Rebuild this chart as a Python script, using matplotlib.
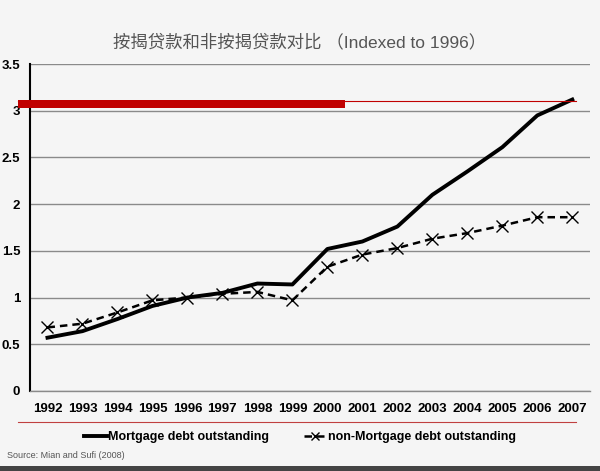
import matplotlib
matplotlib.use("Agg")
import matplotlib.pyplot as plt
from matplotlib.lines import Line2D
from matplotlib.patches import Rectangle

plt.rcParams['font.family'] = ['Liberation Sans', 'Noto Sans CJK SC', 'DejaVu Sans']

# данные
years = ['1992', '1993', '1994', '1995', '1996', '1997', '1998', '1999',
         '2000', '2001', '2002', '2003', '2004', '2005', '2006', '2007']
mortgage = [0.57, 0.64, 0.77, 0.91, 1.00, 1.05, 1.15, 1.14,
            1.52, 1.60, 1.76, 2.10, 2.35, 2.61, 2.95, 3.12]
non_mortgage = [0.68, 0.72, 0.84, 0.97, 1.00, 1.04, 1.06, 0.97,
                1.33, 1.46, 1.53, 1.63, 1.69, 1.77, 1.86, 1.86]
yticks = [0, 0.5, 1, 1.5, 2, 2.5, 3, 3.5]
ytick_labels = ['0', '0.5', '1', '1.5', '2', '2.5', '3', '3.5']

fig = plt.figure(figsize=(6, 4.71), dpi=100)
fig.patch.set_facecolor('#f5f5f5')
ax = fig.add_axes([0.05, 0.17, 0.933, 0.694])
ax.set_facecolor('#f5f5f5')

x = range(len(years))
ax.plot(x, mortgage, color='black', lw=2.8, solid_joinstyle='round',
        label='Mortgage debt outstanding')
ax.plot(x, non_mortgage, color='black', lw=1.8, linestyle=(0, (3, 2)),
        marker='x', markersize=8, markeredgewidth=1.0,
        label='non-Mortgage debt outstanding')

ax.set_xlim(-0.5, len(years) - 0.5)
ax.set_ylim(0, 3.5)
ax.set_yticks(yticks)
ax.set_yticklabels(ytick_labels)
ax.set_xticks(list(x))
ax.set_xticklabels(years)
ax.tick_params(length=0, labelsize=9.5)
ax.tick_params(axis='y', pad=7)
ax.tick_params(axis='x', pad=9)
for lbl in ax.get_xticklabels() + ax.get_yticklabels():
    lbl.set_fontweight('bold')

ax.grid(axis='y', color='#8a8a8a', lw=1.0)
ax.set_axisbelow(True)
for s in ['top', 'right']:
    ax.spines[s].set_visible(False)
ax.spines['left'].set_color('black')
ax.spines['left'].set_linewidth(1.5)
ax.spines['bottom'].set_color('#8a8a8a')
ax.spines['bottom'].set_linewidth(1.0)

# заголовок
fig.text(0.5, 0.91, '按揭贷款和非按揭贷款对比 （Indexed to 1996）',
         ha='center', va='center', fontsize=12.5, color='#555555',
         family=['Liberation Sans', 'Noto Sans CJK SC', 'DejaVu Sans'])

# красные полосы
fig.add_artist(Rectangle((0.03, 0.770), 0.545, 0.018,
                         transform=fig.transFigure, color='#c00000', lw=0))
fig.add_artist(Line2D([0.03, 0.96], [0.786, 0.786], transform=fig.transFigure,
                      color='#c00000', lw=0.8))
fig.add_artist(Line2D([0.03, 0.96], [0.104, 0.104], transform=fig.transFigure,
                      color='#c04040', lw=0.8))

leg = fig.legend(loc='center', bbox_to_anchor=(0.5, 0.072), ncol=2, frameon=False,
                 fontsize=9, handlelength=1.8, handletextpad=0.1, columnspacing=2.8,
                 markerscale=0.8)
for t in leg.get_texts():
    t.set_fontweight('bold')

fig.text(0.012, 0.033, 'Source: Mian and Sufi (2008)', fontsize=6.5, color='#555555',
         va='center')
fig.add_artist(Rectangle((0, 0), 1, 0.01, transform=fig.transFigure,
                         color='#444444', lw=0))

fig.savefig('out.png', dpi=100, facecolor=fig.get_facecolor())
